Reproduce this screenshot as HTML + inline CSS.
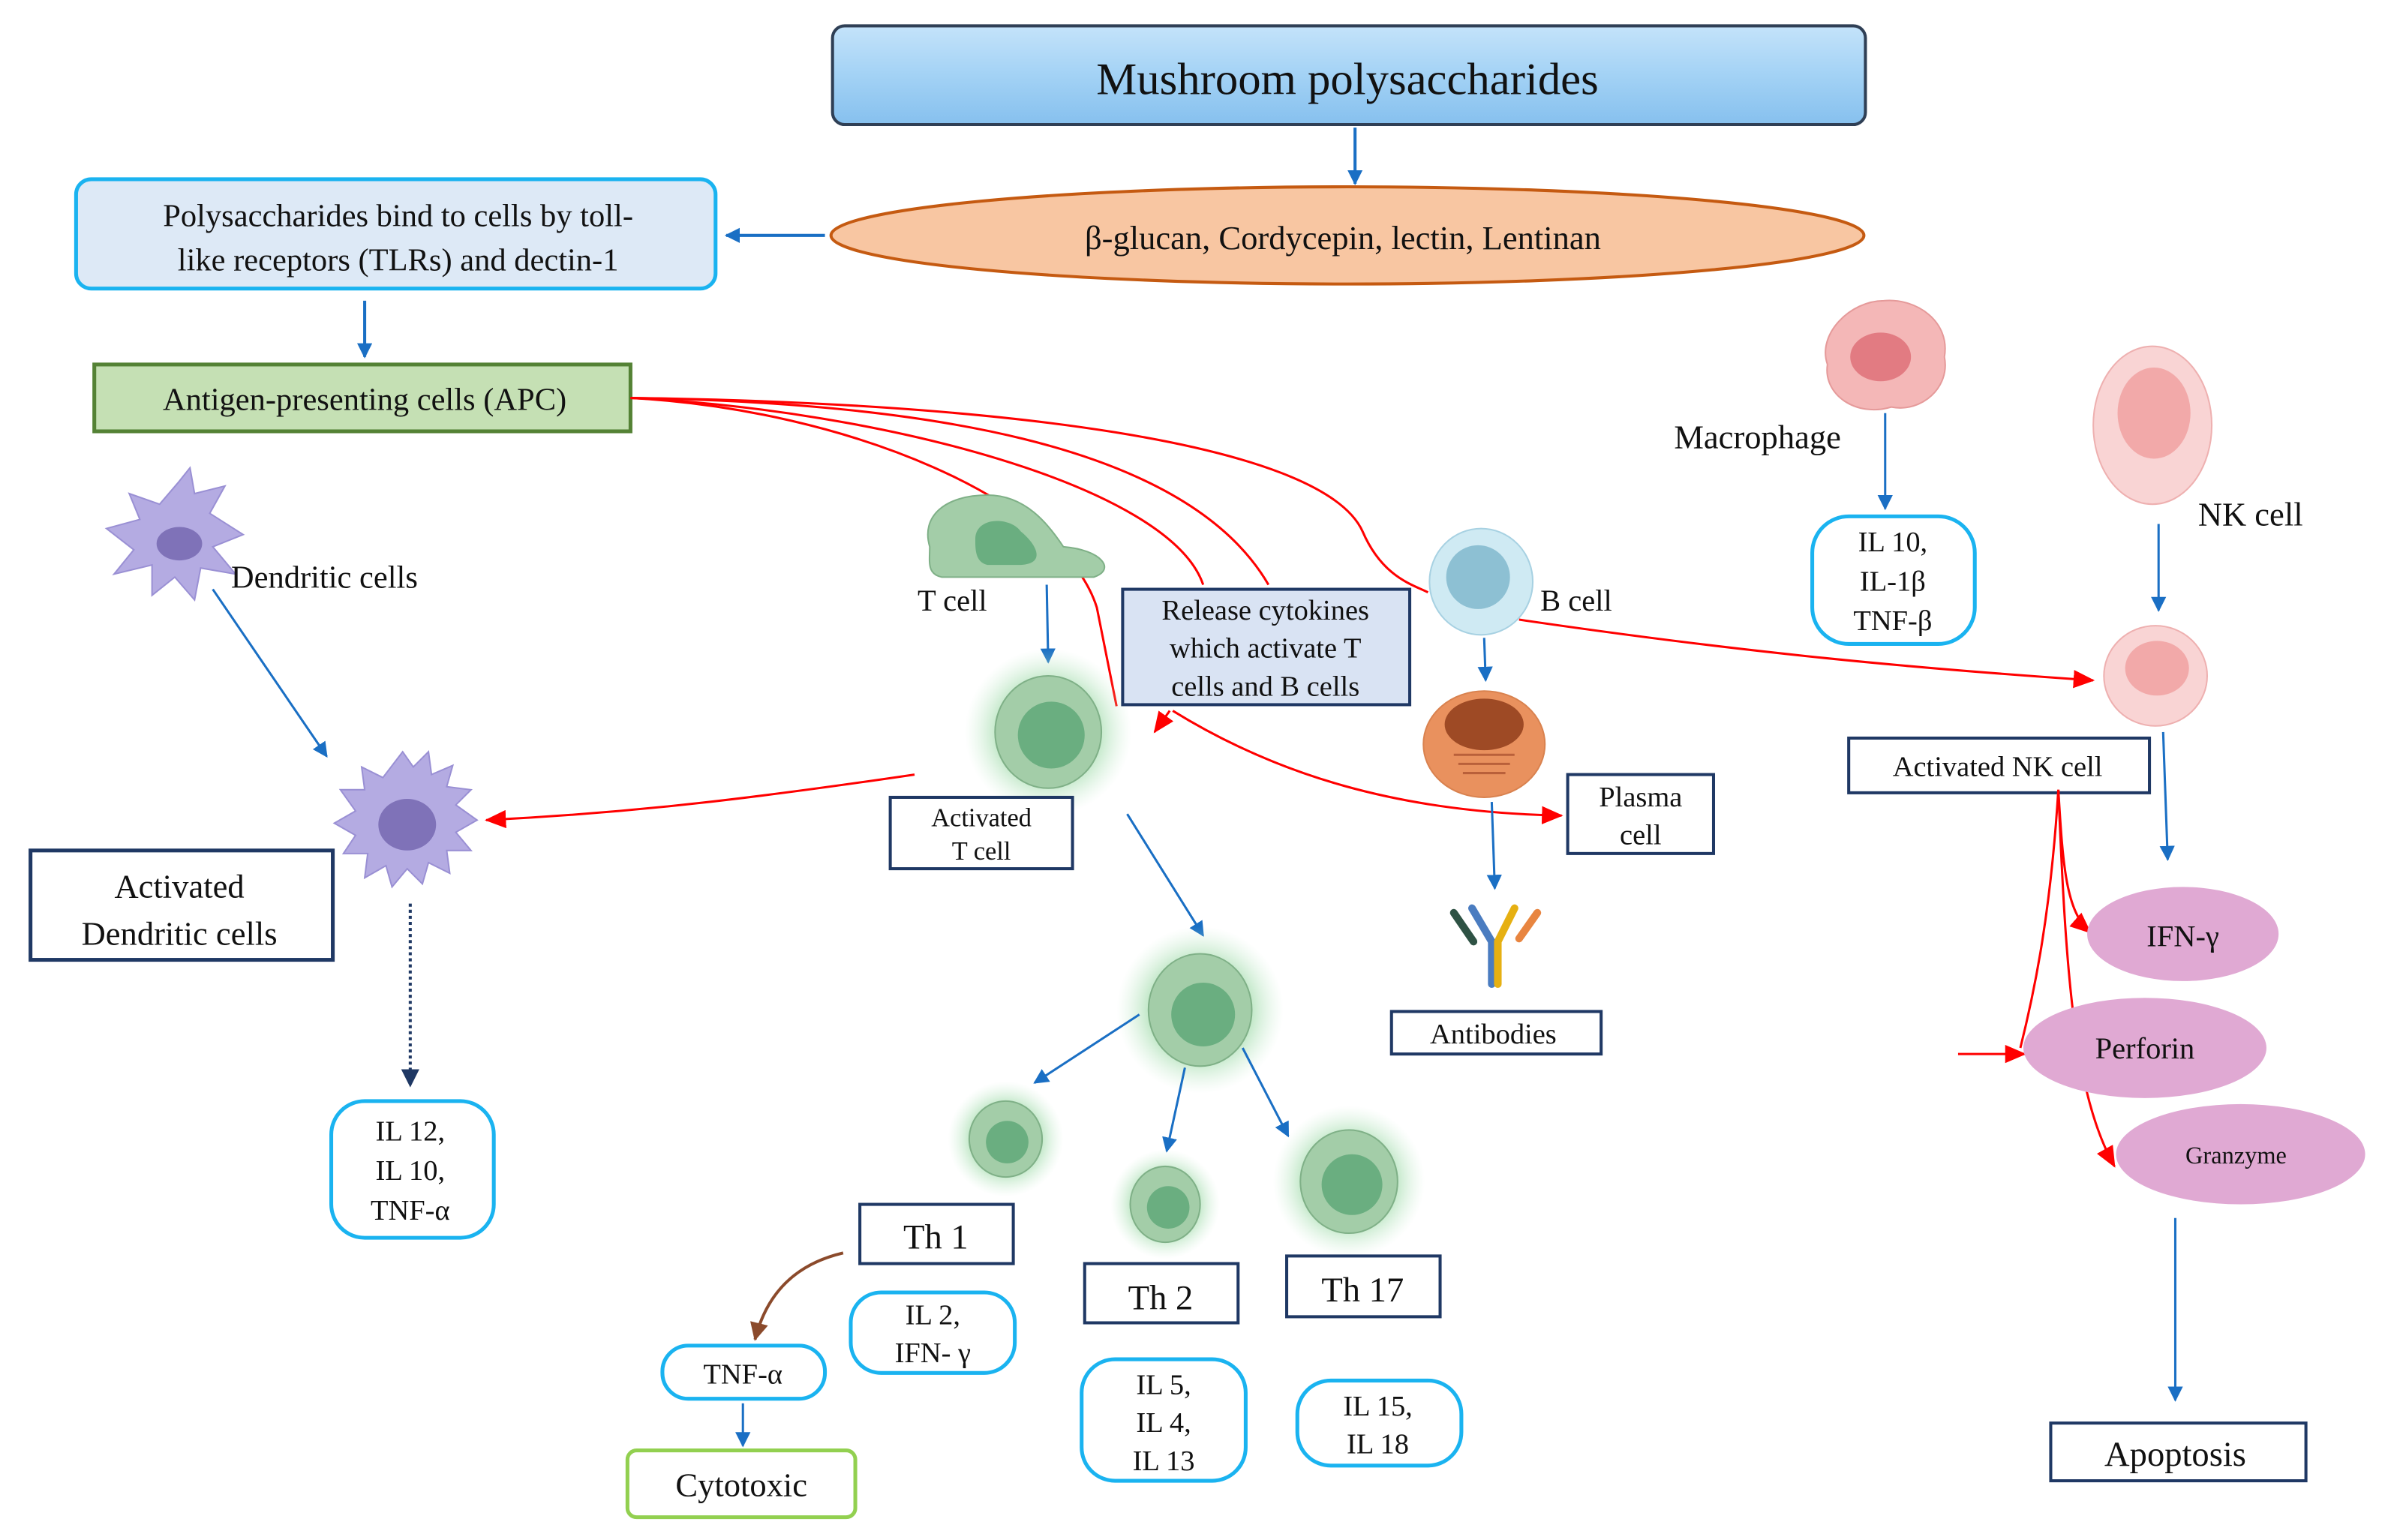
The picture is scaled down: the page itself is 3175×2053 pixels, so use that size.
<!DOCTYPE html>
<html><head><meta charset="utf-8"><style>
html,body{margin:0;padding:0;background:#fff;}
svg{display:block;font-family:"Liberation Serif","Times New Roman",serif;}
svg text{font-family:"Liberation Serif","Times New Roman",serif;fill:#111;}
</style></head><body>
<svg width="3175" height="2053" viewBox="0 0 1568 1014" xmlns="http://www.w3.org/2000/svg" font-family="Liberation Serif, serif">
<defs>
<marker id="ab" markerWidth="10" markerHeight="10" refX="9" refY="5" orient="auto" markerUnits="userSpaceOnUse"><path d="M0,0 L10,5 L0,10 z" fill="#1a6fc4"/></marker>
<marker id="ar" markerWidth="14" markerHeight="12" refX="13" refY="6" orient="auto" markerUnits="userSpaceOnUse"><path d="M0,0 L14,6 L0,12 z" fill="#f00"/></marker>
<marker id="an" markerWidth="12" markerHeight="12" refX="11" refY="6" orient="auto" markerUnits="userSpaceOnUse"><path d="M0,0 L12,6 L0,12 z" fill="#1f3864"/></marker>
<marker id="abr" markerWidth="12" markerHeight="12" refX="11" refY="6" orient="auto" markerUnits="userSpaceOnUse"><path d="M0,0 L12,6 L0,12 z" fill="#8b4a2b"/></marker>
<linearGradient id="tg" x1="0" y1="0" x2="0" y2="1"><stop offset="0" stop-color="#c4e3fa"/><stop offset="0.5" stop-color="#a3d2f5"/><stop offset="1" stop-color="#86c0ee"/></linearGradient>
<radialGradient id="glow"><stop offset="0.55" stop-color="#8fd49a" stop-opacity="0.7"/><stop offset="1" stop-color="#c8ecd0" stop-opacity="0"/></radialGradient>
</defs>

<rect x="548" y="17" width="680" height="65" rx="8" fill="url(#tg)" stroke="#2f3f55" stroke-width="2"/>
<text x="887" y="62" font-size="30" text-anchor="middle">Mushroom polysaccharides</text>
<line x1="892" y1="84" x2="892" y2="121" stroke="#1a6fc4" stroke-width="2" marker-end="url(#ab)"/>
<ellipse cx="887" cy="155" rx="340" ry="32" fill="#f8c6a2" stroke="#c55a11" stroke-width="2"/>
<text x="884" y="164" font-size="22" text-anchor="middle">β-glucan,  Cordycepin, lectin, Lentinan</text>
<line x1="543" y1="155" x2="478" y2="155" stroke="#1a6fc4" stroke-width="2" marker-end="url(#ab)"/>

<rect x="50" y="118" width="421" height="72" rx="10" fill="#dde9f6" stroke="#1ab3f0" stroke-width="2.5"/>
<text x="262" y="149" font-size="21" text-anchor="middle">Polysaccharides bind to cells by toll-</text>
<text x="262" y="178" font-size="21" text-anchor="middle">like receptors (TLRs) and dectin-1</text>
<line x1="240" y1="198" x2="240" y2="235" stroke="#1a6fc4" stroke-width="2" marker-end="url(#ab)"/>
<rect x="62" y="240" width="353" height="44" fill="#c5e0b4" stroke="#548235" stroke-width="2.5"/>
<text x="240" y="270" font-size="21" text-anchor="middle">Antigen-presenting cells (APC)</text>

<g fill="none" stroke="#f00" stroke-width="1.5">
<path d="M415,262 C560,270 700,330 722,400 C726,420 730,440 735,465"/>
<path d="M415,262 C580,270 770,320 792,385"/>
<path d="M415,262 C600,265 780,290 835,385"/>
<path d="M415,262 C650,265 870,290 897,350 C910,380 930,385 940,390"/>
<path d="M1000,408 C1150,430 1260,440 1378,448" marker-end="url(#ar)"/>
<path d="M772,468 C840,510 920,535 1028,537" marker-end="url(#ar)"/>
<path d="M770,468 L760,482" marker-end="url(#ar)"/>
<path d="M602,510 C500,525 420,535 320,540" marker-end="url(#ar)"/>
</g>

<g>
<path d="M117,318 L125,308 L128,325 L148,320 L138,338 L160,352 L140,360 L155,378 L132,374 L128,395 L115,380 L100,392 L100,372 L75,378 L88,362 L70,348 L92,342 L85,325 L105,332 Z" fill="#b4abe2" stroke="#9a90d4"/>
<ellipse cx="118" cy="358" rx="15" ry="11" fill="#7f72b8"/>
<text x="152" y="387" font-size="21">Dendritic cells</text>
<line x1="140" y1="388" x2="215" y2="498" stroke="#1a6fc4" stroke-width="1.5" marker-end="url(#ab)"/>
<path d="M265,495 L272,505 L282,495 L284,510 L298,504 L294,518 L310,520 L300,530 L314,540 L300,548 L310,560 L294,560 L296,575 L282,568 L278,582 L268,572 L258,584 L254,570 L240,578 L242,562 L226,562 L234,550 L220,542 L234,534 L224,520 L240,520 L238,505 L252,512 Z" fill="#b4abe2" stroke="#9a90d4"/>
<ellipse cx="268" cy="543" rx="19" ry="17" fill="#7f72b8"/>
<rect x="20" y="560" width="199" height="72" fill="#fff" stroke="#1f3864" stroke-width="2.5"/>
<text x="118" y="591" font-size="22" text-anchor="middle">Activated</text>
<text x="118" y="622" font-size="22" text-anchor="middle">Dendritic cells</text>
<line x1="270" y1="595" x2="270" y2="715" stroke="#1f3864" stroke-width="2" stroke-dasharray="2,2" marker-end="url(#an)"/>
<rect x="218" y="725" width="107" height="90" rx="22" fill="#fff" stroke="#1ab3f0" stroke-width="2.5"/>
<text x="270" y="751" font-size="19" text-anchor="middle">IL 12,</text>
<text x="270" y="777" font-size="19" text-anchor="middle">IL 10,</text>
<text x="270" y="803" font-size="19" text-anchor="middle">TNF-α</text>
</g>

<path d="M612,360 C606,340 622,326 650,326 C675,326 690,345 700,360 C725,362 735,375 720,380 L620,380 C610,378 612,370 612,360 Z" fill="#a3cda8" stroke="#7fb087"/>
<path d="M642,355 C642,340 665,340 672,350 C682,358 690,372 670,372 L650,372 C642,370 642,362 642,355Z" fill="#6aae80"/>
<text x="604" y="402" font-size="20">T cell</text>
<line x1="689" y1="385" x2="690" y2="436" stroke="#1a6fc4" stroke-width="1.5" marker-end="url(#ab)"/>
<circle cx="690" cy="482" r="55" fill="url(#glow)"/>
<ellipse cx="690" cy="482" rx="35" ry="37" fill="#a3cda8" stroke="#7fb087"/>
<circle cx="692" cy="484" r="22" fill="#6aae80"/>
<rect x="586" y="525" width="120" height="47" fill="#fff" stroke="#1f3864" stroke-width="2"/>
<text x="646" y="544" font-size="17" text-anchor="middle">Activated</text>
<text x="646" y="566" font-size="17" text-anchor="middle">T cell</text>

<rect x="739" y="388" width="189" height="76" fill="#d9e3f3" stroke="#1f3864" stroke-width="2"/>
<text x="833" y="408" font-size="19" text-anchor="middle">Release cytokines</text>
<text x="833" y="433" font-size="19" text-anchor="middle">which activate T</text>
<text x="833" y="458" font-size="19" text-anchor="middle">cells and B cells</text>

<line x1="742" y1="536" x2="792" y2="616" stroke="#1a6fc4" stroke-width="1.5" marker-end="url(#ab)"/>
<circle cx="790" cy="665" r="55" fill="url(#glow)"/>
<ellipse cx="790" cy="665" rx="34" ry="37" fill="#a3cda8" stroke="#7fb087"/>
<circle cx="792" cy="668" r="21" fill="#6aae80"/>
<line x1="750" y1="668" x2="681" y2="713" stroke="#1a6fc4" stroke-width="1.5" marker-end="url(#ab)"/>
<line x1="780" y1="703" x2="768" y2="758" stroke="#1a6fc4" stroke-width="1.5" marker-end="url(#ab)"/>
<line x1="818" y1="690" x2="848" y2="748" stroke="#1a6fc4" stroke-width="1.5" marker-end="url(#ab)"/>

<circle cx="662" cy="750" r="38" fill="url(#glow)"/>
<ellipse cx="662" cy="750" rx="24" ry="25" fill="#a3cda8" stroke="#7fb087"/>
<circle cx="663" cy="752" r="14" fill="#6aae80"/>
<circle cx="767" cy="793" r="36" fill="url(#glow)"/>
<ellipse cx="767" cy="793" rx="23" ry="25" fill="#a3cda8" stroke="#7fb087"/>
<circle cx="769" cy="795" r="14" fill="#6aae80"/>
<circle cx="888" cy="778" r="50" fill="url(#glow)"/>
<ellipse cx="888" cy="778" rx="32" ry="34" fill="#a3cda8" stroke="#7fb087"/>
<circle cx="890" cy="780" r="20" fill="#6aae80"/>

<rect x="566" y="793" width="101" height="39" fill="#fff" stroke="#1f3864" stroke-width="2"/>
<text x="616" y="822" font-size="23" text-anchor="middle">Th 1</text>
<rect x="714" y="832" width="101" height="39" fill="#fff" stroke="#1f3864" stroke-width="2"/>
<text x="764" y="862" font-size="23" text-anchor="middle">Th 2</text>
<rect x="847" y="827" width="101" height="40" fill="#fff" stroke="#1f3864" stroke-width="2"/>
<text x="897" y="857" font-size="23" text-anchor="middle">Th 17</text>

<path d="M555,825 C525,832 505,850 497,882" fill="none" stroke="#8b4a2b" stroke-width="2" marker-end="url(#abr)"/>
<rect x="560" y="851" width="108" height="53" rx="20" fill="#fff" stroke="#1ab3f0" stroke-width="2.5"/>
<text x="614" y="872" font-size="19" text-anchor="middle">IL 2,</text>
<text x="614" y="897" font-size="19" text-anchor="middle">IFN- γ</text>
<rect x="436" y="886" width="107" height="35" rx="17" fill="#fff" stroke="#1ab3f0" stroke-width="2.5"/>
<text x="489" y="911" font-size="19" text-anchor="middle">TNF-α</text>
<line x1="489" y1="924" x2="489" y2="952" stroke="#1a6fc4" stroke-width="1.5" marker-end="url(#ab)"/>
<rect x="413" y="955" width="150" height="44" rx="6" fill="#fff" stroke="#92d050" stroke-width="2.5"/>
<text x="488" y="985" font-size="22" text-anchor="middle">Cytotoxic</text>
<rect x="712" y="895" width="108" height="80" rx="22" fill="#fff" stroke="#1ab3f0" stroke-width="2.5"/>
<text x="766" y="918" font-size="19" text-anchor="middle">IL 5,</text>
<text x="766" y="943" font-size="19" text-anchor="middle">IL 4,</text>
<text x="766" y="968" font-size="19" text-anchor="middle">IL 13</text>
<rect x="854" y="909" width="108" height="56" rx="22" fill="#fff" stroke="#1ab3f0" stroke-width="2.5"/>
<text x="907" y="932" font-size="19" text-anchor="middle">IL 15,</text>
<text x="907" y="957" font-size="19" text-anchor="middle">IL 18</text>

<ellipse cx="975" cy="383" rx="34" ry="35" fill="#cfeaf3" stroke="#a7d1e2"/>
<circle cx="973" cy="380" r="21" fill="#8dc0d3"/>
<text x="1014" y="402" font-size="20">B cell</text>
<line x1="977" y1="420" x2="978" y2="448" stroke="#1a6fc4" stroke-width="1.5" marker-end="url(#ab)"/>
<ellipse cx="977" cy="490" rx="40" ry="35" fill="#e9915e" stroke="#d9824f"/>
<ellipse cx="977" cy="477" rx="26" ry="17" fill="#9e4a25"/>
<g stroke="#b9603a" stroke-width="1.5"><line x1="957" y1="497" x2="997" y2="497"/><line x1="960" y1="503" x2="994" y2="503"/><line x1="963" y1="509" x2="991" y2="509"/></g>
<line x1="982" y1="528" x2="984" y2="585" stroke="#1a6fc4" stroke-width="1.5" marker-end="url(#ab)"/>
<g stroke-linecap="round" stroke-width="5" fill="none">
<path d="M969,598 L982,620 L982,648" stroke="#4a7cc0"/>
<path d="M997,598 L986,620 L986,648" stroke="#e6b012"/>
<line x1="957" y1="601" x2="970" y2="620" stroke="#2e5244"/>
<line x1="1012" y1="601" x2="1000" y2="618" stroke="#e88540"/>
</g>
<rect x="916" y="666" width="138" height="28" fill="#fff" stroke="#1f3864" stroke-width="2"/>
<text x="983" y="687" font-size="19" text-anchor="middle">Antibodies</text>
<rect x="1032" y="510" width="96" height="52" fill="#fff" stroke="#1f3864" stroke-width="2"/>
<text x="1080" y="531" font-size="19" text-anchor="middle">Plasma</text>
<text x="1080" y="556" font-size="19" text-anchor="middle">cell</text>

<path d="M1240,198 C1262,196 1284,212 1280,235 C1284,255 1265,272 1245,268 C1222,275 1200,260 1203,240 C1196,220 1218,198 1240,198Z" fill="#f4b7b7" stroke="#e59a9a"/>
<ellipse cx="1238" cy="235" rx="20" ry="16" fill="#e27b82"/>
<text x="1102" y="295" font-size="22">Macrophage</text>
<line x1="1241" y1="272" x2="1241" y2="335" stroke="#1a6fc4" stroke-width="1.5" marker-end="url(#ab)"/>
<rect x="1193" y="340" width="107" height="84" rx="24" fill="#fff" stroke="#1ab3f0" stroke-width="2.5"/>
<text x="1246" y="363" font-size="19" text-anchor="middle">IL 10,</text>
<text x="1246" y="389" font-size="19" text-anchor="middle">IL-1β</text>
<text x="1246" y="415" font-size="19" text-anchor="middle">TNF-β</text>

<ellipse cx="1417" cy="280" rx="39" ry="52" fill="#f9d4d4" stroke="#eeb0b0"/>
<ellipse cx="1418" cy="272" rx="24" ry="30" fill="#f2a9a9"/>
<text x="1447" y="346" font-size="22">NK cell</text>
<line x1="1421" y1="345" x2="1421" y2="402" stroke="#1a6fc4" stroke-width="1.5" marker-end="url(#ab)"/>
<ellipse cx="1419" cy="445" rx="34" ry="33" fill="#f9d4d4" stroke="#eeb0b0"/>
<ellipse cx="1420" cy="440" rx="21" ry="18" fill="#f2a9a9"/>
<rect x="1217" y="486" width="198" height="36" fill="#fff" stroke="#1f3864" stroke-width="2"/>
<text x="1315" y="511" font-size="19" text-anchor="middle">Activated NK cell</text>
<line x1="1424" y1="482" x2="1427" y2="566" stroke="#1a6fc4" stroke-width="1.5" marker-end="url(#ab)"/>
<g fill="none" stroke="#f00" stroke-width="1.5">
<path d="M1355,520 C1358,570 1360,600 1376,614" marker-end="url(#ar)"/>
<path d="M1355,520 C1350,600 1340,650 1330,690"/>
<path d="M1289,694 L1333,694" marker-end="url(#ar)"/>
<path d="M1355,520 C1360,640 1365,720 1392,768" marker-end="url(#ar)"/>
</g>
<ellipse cx="1437" cy="615" rx="63" ry="31" fill="#e0a9d3"/>
<text x="1437" y="623" font-size="20" text-anchor="middle">IFN-γ</text>
<ellipse cx="1412" cy="690" rx="80" ry="33" fill="#e0a9d3"/>
<text x="1412" y="697" font-size="20" text-anchor="middle">Perforin</text>
<ellipse cx="1475" cy="760" rx="82" ry="33" fill="#e0a9d3"/>
<text x="1472" y="766" font-size="16" text-anchor="middle">Granzyme</text>
<line x1="1432" y1="802" x2="1432" y2="922" stroke="#1a6fc4" stroke-width="1.5" marker-end="url(#ab)"/>
<rect x="1350" y="937" width="168" height="38" fill="#fff" stroke="#1f3864" stroke-width="2"/>
<text x="1432" y="965" font-size="23" text-anchor="middle">Apoptosis</text>
</svg>
</body></html>
